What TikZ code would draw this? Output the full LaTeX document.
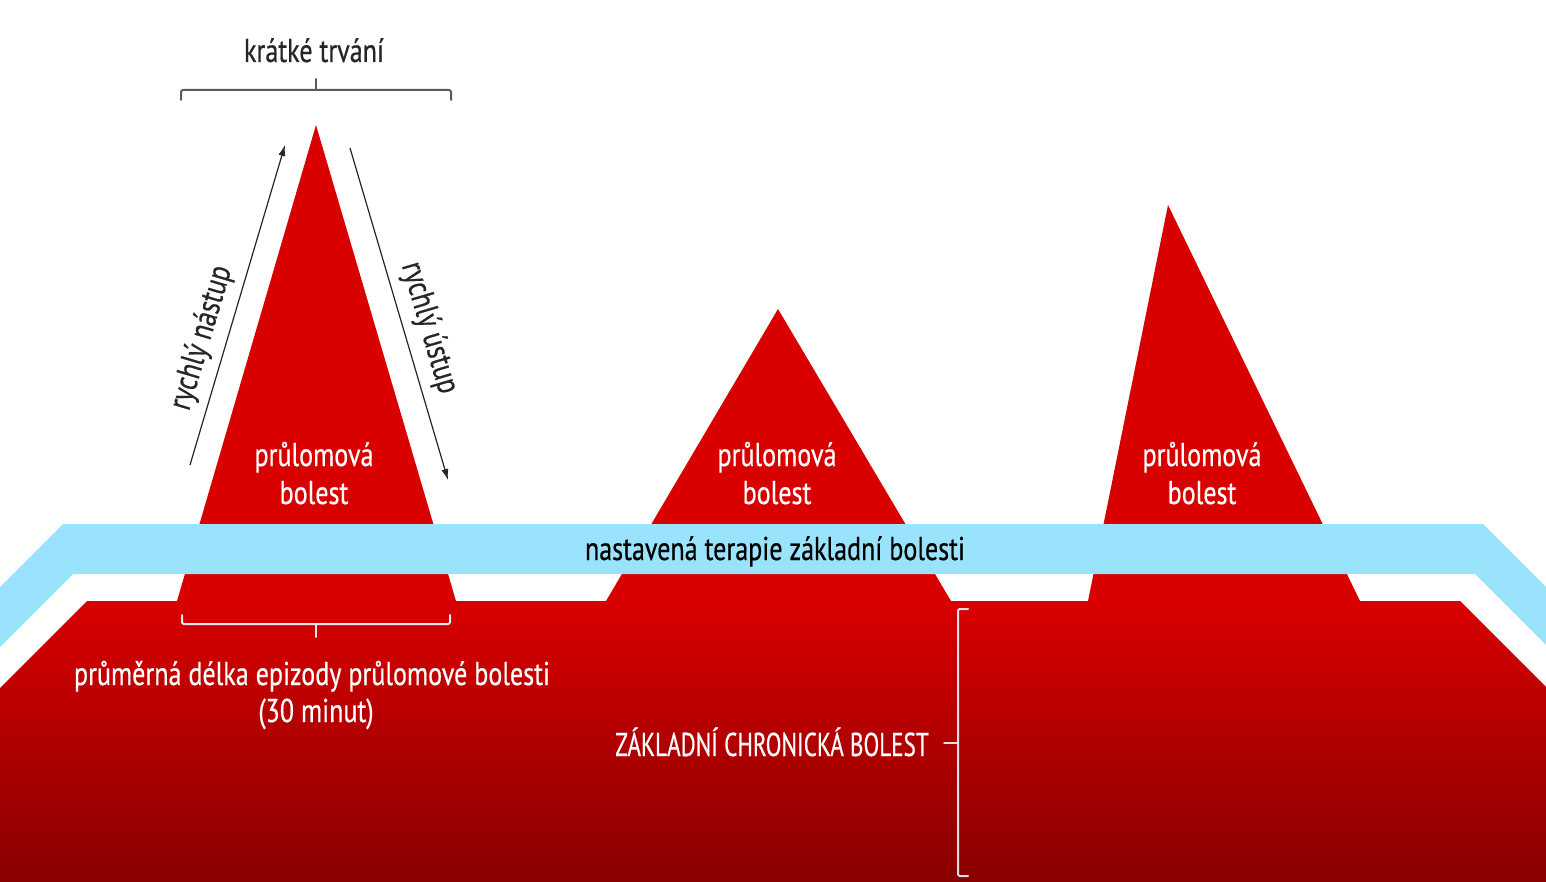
\documentclass[tikz,border=0pt]{standalone}
\usepackage{fontspec}
\setmainfont{PT Sans}[FakeStretch=0.79, FakeBold=0.5]
\newfontfamily\capsfont{PT Sans}[FakeStretch=0.7, FakeBold=0.5]
\usetikzlibrary{arrows.meta}
\definecolor{peakred}{HTML}{D90000}
\definecolor{deepred}{HTML}{880000}
\definecolor{bandblue}{HTML}{99E3FD}
\definecolor{darktext}{HTML}{262626}
\definecolor{brkgray}{HTML}{5A5A5A}
\begin{document}
\begin{tikzpicture}[x=1pt,y=-1pt,
  lbl/.style={font=\fontsize{33}{38}\selectfont, inner sep=0pt, anchor=base},
  wlbl/.style={lbl, text=white},
  dlbl/.style={lbl, text=darktext},
  brk/.style={line width=2pt, line cap=round, line join=round, rounded corners=2pt},
  arr/.style={line width=1.2pt, -{Latex[length=11pt,width=7pt]}, draw=black!85}]
\useasboundingbox (0,0) rectangle (1546,882);
\fill[white] (0,0) rectangle (1546,882);
% base chronic pain
\shade[top color=peakred, bottom color=deepred]
  (0,688) -- (87,601) -- (1460,601) -- (1546,687) -- (1546,882) -- (0,882) -- cycle;
% peaks
\fill[peakred] (316,125) -- (456,601) -- (177,601) -- cycle;
\fill[peakred] (778,309) -- (951,601) -- (606,601) -- cycle;
\fill[peakred] (1168,205) -- (1360,601) -- (1088,601) -- cycle;
% blue therapy band
\fill[bandblue] (0,587) -- (63,524) -- (1483,524) -- (1546,587) -- (1546,645)
  -- (1475,574) -- (73,574) -- (0,647) -- cycle;
% top bracket
\draw[brk, brkgray] (181,100) -- (181,90) -- (451,90) -- (451,100);
\draw[brk, brkgray] (316,90) -- (316,79);
\node[dlbl] (kratke) at (314,62) {krátké trvání};
% arrows
\coordinate (up0) at (190,465);
\coordinate (up1) at (285,145);
\coordinate (dn0) at (350,148);
\coordinate (dn1) at (448,480);
\draw[arr] (up0) -- (up1);
\draw[arr] (dn0) -- (dn1);
\node[dlbl, anchor=center, rotate=73.4] (nastup) at (202,338) {rychlý nástup};
\node[dlbl, anchor=center, rotate=-73.6] (ustup) at (429,328) {rychlý ústup};
% peak labels
\node[wlbl] (p1a) at (314,466) {průlomová};
\node[wlbl] (p1b) at (314,504) {bolest};
\node[wlbl] (p2a) at (777,466) {průlomová};
\node[wlbl] (p2b) at (777,504) {bolest};
\node[wlbl] (p3a) at (1202,466) {průlomová};
\node[wlbl] (p3b) at (1202,504) {bolest};
% band label
\node[dlbl, text=black] (band) at (775,560) {nastavená terapie základní bolesti};
% bottom bracket
\draw[brk, white!92!black] (182,615) -- (182,624) -- (450,624) -- (450,615);
\draw[brk, white!92!black] (316,624) -- (316,637);
\node[wlbl] (delka) at (312,685) {průměrná délka epizody průlomové bolesti};
\node[wlbl] (minut) at (316,722) {(30 minut)};
% chronic label and bracket
\draw[brk, white!88!black] (968,609) -- (958,609) -- (958,876) -- (968,876);
\draw[brk, white!88!black] (944,743) -- (958,743);
\node[wlbl, font=\capsfont\fontsize{33}{38}\selectfont] (chron) at (772,756) {ZÁKLADNÍ CHRONICKÁ BOLEST};
\end{tikzpicture}
\end{document}
